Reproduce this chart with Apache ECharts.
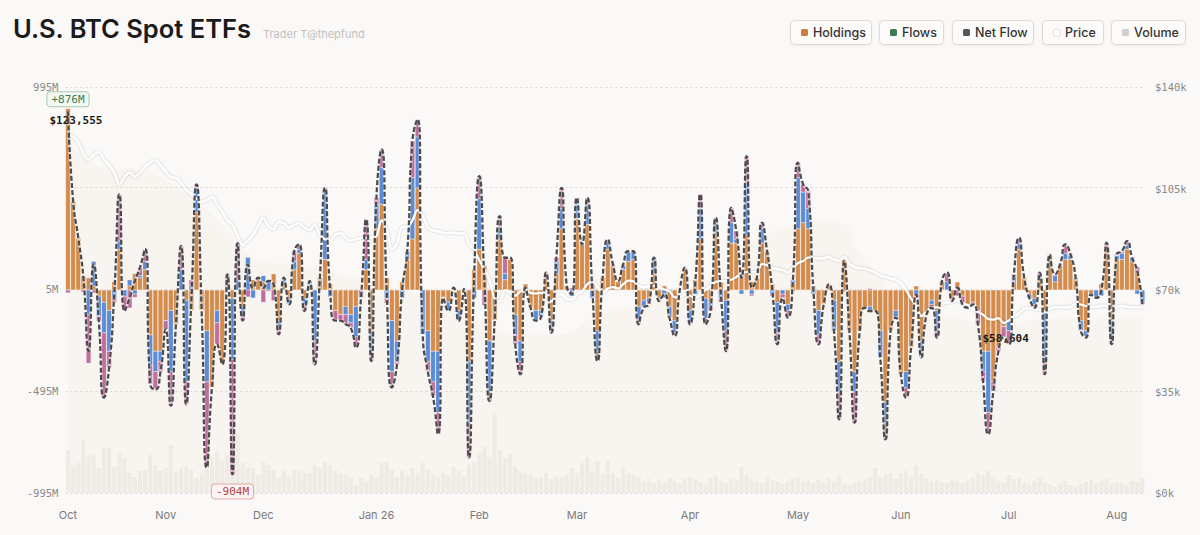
<!DOCTYPE html>
<html>
<head>
<meta charset="utf-8">
<script src="https://cdn.jsdelivr.net/npm/echarts@6/dist/echarts.min.js"></script>
<style>
html,body{margin:0;padding:0;background:#FAF9F7;}
#chart{width:1200px;height:535px;}
</style>
</head>
<body>
<div id="chart"></div>
<script>
// ---- categories (trading days per month) ----
const months = ['Oct','Nov','Dec','Jan 26','Feb','Mar','Apr','May','Jun','Jul','Aug'];
const tradingDays = [19,19,22,20,19,22,21,20,21,21,6];

// ---- daily net flow, $M ----
const netFlow = [
  876, 436, 256, 60, -299, 126, -152, -527, -380, -20,
  469, -103, -38, 44, 110, 200, -462, -487, -400, -193,
  -568, -170, 216, -560, -50, 518, -100, -870, -480, -266,
  -364, 77, -904, 230, -150, 126, 10, 60, 10, 44,
  28, -217, 60, -70, 190, 224, -103, 44, -364, 60,
  501, -5, -150, -150, -168, -185, -282, -38, 346, -348,
  452, 689, -5, -478, -364, 0, 190, 730, 836, -217,
  -400, -520, -707, -38, -103, 11, -152, 5, -821, 60,
  558, 44, -544, -150, 362, 158, 158, -266, -413, 11,
  -87, -150, -135, 85, -209, 158, 501, 20, -20, 452,
  224, 452, 0, -348, 60, 248, 126, 44, 126, 190,
  190, -168, -87, -70, 158, -54, -21, -135, -225, 0,
  110, -168, 28, 469, -168, -100, 354, -21, -300, 403,
  289, 60, 656, 11, 60, 330, 190, 0, -266, -40,
  -135, 44, 624, 518, 485, 0, -266, -70, 28, -200,
  -634, 142, -200, -650, -200, -87, -103, -103, -330, -732,
  -200, -135, -413, -527, -282, -21, -330, -120, -87, -233,
  44, 85, -54, 11, -70, -87, -70, -168, -446, -707,
  -495, -299, -233, -266, 77, 256, 60, -38, -87, 85,
  -413, 175, 77, 126, 224, 175, 60, -200, -233, -21,
  -38, 0, 232, -266, 175, 190, 240, 158, 93, -70
];

// ---- IBIT flow (orange), $M ----
const ibitFlow = [
  890, 436, 256, 70, 60, 20, -30, -60, -100, 40,
  200, 0, 20, 80, 60, 100, -220, -300, -300, -150,
  -100, -170, 0, -50, -100, 380, -100, -200, -480, -100,
  -364, 0, -40, 0, -80, 0, 50, 60, 40, 0,
  80, -150, 20, -40, 100, 180, -40, 20, 0, 60,
  150, 30, -100, -120, -80, -120, -80, 0, 100, -200,
  300, 420, 60, -150, -250, 40, 150, 250, 500, 0,
  -200, -300, -300, -38, -60, 11, -100, 0, -350, 100,
  200, 120, -250, -150, 250, 50, 150, -120, -250, 30,
  -87, -100, -100, 50, -150, 80, 300, 20, 0, 350,
  224, 320, 20, -200, 60, 200, 120, 44, 100, 140,
  150, -80, -50, -40, 80, -40, 20, -80, -150, 0,
  100, -100, 50, 250, -40, -60, 280, 40, -50, 230,
  230, 60, 270, 40, 60, 230, 190, 30, -60, 0,
  -70, 30, 300, 330, 300, 10, -100, -70, 30, -50,
  -350, 150, -200, -400, -200, -87, -80, -103, -200, -550,
  -200, -100, -413, -400, -282, 20, -250, -120, -50, -100,
  44, 0, -40, 40, -30, -70, -60, -100, -300, -300,
  -450, -280, -180, -150, 40, 200, 60, -20, -40, 50,
  -100, 175, 40, 120, 150, 150, 60, -150, -200, -21,
  0, 30, 200, -150, 150, 150, 200, 140, 80, 0
];

// ---- FBTC flow (blue), $M ----
const fbtcFlow = [
  0, 0, 0, 0, -120, 120, -100, -150, -200, -40,
  40, -30, 30, -20, 10, 40, -150, -100, -50, 0,
  -300, 0, 100, -400, 20, 120, 0, -250, 0, -60,
  0, 0, -300, 50, -40, 160, -40, 0, 30, 50,
  0, -30, 40, -30, 40, 20, -30, 20, -250, 0,
  340, -30, 0, 0, -40, -40, -150, 0, 50, -100,
  120, 180, -40, -250, -100, -40, 40, 300, 250, -217,
  -150, -150, -300, 0, -40, 0, -50, 5, -300, -40,
  250, 0, -250, 0, 60, 30, 0, -100, -100, 0,
  0, -50, -30, 0, -30, 60, 100, 0, -30, 80,
  0, 100, -40, -100, 0, 40, 0, 0, 20, 50,
  40, -60, -30, -20, 78, 0, -40, -50, -60, 0,
  0, -60, -20, 150, -100, -20, 50, -40, -150, 100,
  20, -20, 250, -20, 0, 70, 0, -20, -150, -20,
  -30, 20, 250, 150, 100, -20, -120, 0, 0, -150,
  -150, 0, 0, -100, 0, 0, -30, 0, -130, -100,
  0, -35, 0, -80, 0, -20, -80, 0, -20, -100,
  0, 40, 0, 0, 0, 0, 0, 0, -100, -300,
  0, 0, 0, -50, 20, 30, 0, -20, -30, 0,
  -250, 0, 30, 0, 30, 20, 0, -50, -30, 0,
  -38, -30, 0, -100, 20, 30, 20, 20, -20, -60
];

// ---- BTC price, $k ----
const price = [
  123.555, 122.8, 121, 117, 115, 116.5, 117.6, 115, 113, 110.5,
  106.5, 109, 110.5, 109, 110.5, 112.4, 114, 114.8, 113, 110.7,
  109, 108.6, 107, 104.5, 103, 101.5, 100.3, 101, 102, 99.5,
  97, 94, 92.5, 88.5, 85.5, 87, 89, 92, 95, 92,
  91, 93.5, 93, 91.5, 92.5, 93, 91.5, 90.7, 92.5, 89,
  87.5, 87, 89, 89.6, 88, 87, 87.5, 88, 88, 88,
  88.5, 94, 91, 84, 86, 91.7, 91.7, 94, 97.6, 95.5,
  91.5, 90.5, 90.2, 89.8, 89.6, 89.8, 89.5, 89.6, 86, 83.8,
  80.3, 77, 73.4, 67, 66, 70, 69, 68, 69.5, 70,
  69, 68.8, 69, 68, 66, 68, 68.5, 67, 66.6, 68.5,
  69.5, 72, 73, 71, 69, 70.5, 71, 70.5, 72, 73.2,
  73, 71.5, 71, 71.2, 71.4, 71, 70.2, 69.5, 67.5, 67.5,
  68.5, 68, 67.2, 68.5, 70, 71.5, 72.8, 73, 73, 73.5,
  74.5, 75.5, 76.2, 76.2, 76.2, 79, 78.5, 77.6, 77.2, 76.9,
  76, 77.5, 79.3, 80, 81.2, 81, 80.8, 81, 81.4, 80.5,
  80, 81.4, 79, 77.9, 77.5, 77.3, 76.8, 76, 75, 74.5,
  74, 73.5, 72.4, 70, 67, 64.5, 61, 62.5, 64, 64,
  65.3, 65.7, 65.9, 66.5, 65.5, 64.8, 63.5, 62.5, 61.5, 60,
  59.8, 60.3, 58.604, 59.5, 60.7, 62, 63.5, 63.8, 63.5, 63.2,
  62.4, 63.5, 64.1, 64.1, 64, 64.1, 65.2, 65, 64.5, 64.2,
  64.2, 64.5, 64.5, 63.1, 64, 64.5, 64.2, 64, 64.1, 64.1
];

// ---- trading volume, $B ----
const volume = [
  4.3, 2.8, 3.0, 5.3, 3.6, 3.8, 2.5, 4.5, 4.5, 2.6,
  4.0, 3.5, 2.0, 1.6, 2.2, 2.3, 3.8, 2.8, 2.3, 2.5,
  4.8, 2.2, 2.5, 2.6, 2.3, 1.5, 2.0, 3.3, 3.6, 4.1,
  3.3, 3.8, 5.3, 6.0, 3.0, 2.6, 2.5, 1.8, 3.1, 2.8,
  2.3, 1.5, 2.2, 1.6, 2.3, 2.2, 2.0, 2.0, 2.8, 2.5,
  3.1, 2.8, 2.3, 2.0, 1.8, 1.5, 0.8, 1.5, 1.2, 1.8,
  1.5, 3.0, 3.1, 2.3, 1.6, 2.2, 1.8, 2.5, 2.0, 3.0,
  2.4, 1.9, 1.6, 2.0, 1.8, 2.6, 2.2, 1.7, 2.8, 3.0,
  4.0, 4.6, 3.6, 8.0, 4.3, 3.5, 3.9, 2.6, 2.2, 2.0,
  1.8, 1.5, 1.6, 2.0, 1.4, 1.7, 1.6, 1.8, 2.5, 2.0,
  3.0, 3.6, 2.2, 3.2, 2.0, 3.3, 2.0, 1.5, 2.6, 2.0,
  1.8, 1.6, 1.2, 1.4, 1.0, 1.3, 1.1, 1.5, 1.2, 1.0,
  1.4, 1.6, 1.3, 1.1, 0.9, 1.5, 1.8, 1.2, 1.0, 1.4,
  1.2, 2.6, 1.8, 1.4, 1.2, 1.0, 1.6, 1.3, 1.1, 0.9,
  1.2, 1.5, 1.6, 1.2, 1.4, 1.0, 1.3, 1.1, 1.5, 1.2,
  1.8, 1.0, 0.8, 1.0, 1.2, 1.4, 1.6, 2.5, 1.6, 1.8,
  2.0, 1.5, 2.0, 2.2, 1.8, 2.8, 2.0, 1.5, 1.2, 1.3,
  1.1, 1.0, 1.4, 1.2, 1.0, 1.2, 1.5, 2.0, 1.8, 2.2,
  1.6, 1.2, 1.0, 1.8, 1.4, 1.5, 1.0, 0.8, 1.2, 1.5,
  1.1, 0.9, 0.7, 1.0, 1.2, 0.8, 0.6, 0.9, 1.1, 1.3,
  1.0, 1.2, 1.4, 0.9, 1.1, 1.0, 0.8, 1.2, 1.1, 1.4
];

// ---- total holdings (AUM, $B) sampled at [day index, value] ----
const holdings = [
  [0,174],[6,161],[14,159],[22,149],[30,132],[33.5,122],[37.5,114],[45,112],
  [57,105],[64.5,100],[72.5,95],[80,85],[88,78],[95.5,78],[103.5,88],[113,94],
  [123,100],[130.5,118],[138.5,130],[146,134],[151,132],[154,118],[158,106],
  [162,95],[169.5,88],[181,84],[193,86],[209,86]
];

// ---- build categories ----
const cats = [];
const monthLabelAt = {};
months.forEach((m, mi) => {
  for (let k = 0; k < tradingDays[mi]; k++) {
    if (k === 0) monthLabelAt[cats.length] = m;
    cats.push(m + ' #' + (k + 1));
  }
});
const otherFlow = netFlow.map((v, i) => Math.round(v - ibitFlow[i] - fbtcFlow[i]));

const maxIdx = netFlow.indexOf(Math.max(...netFlow));
const minIdx = netFlow.indexOf(Math.min(...netFlow));
const pMaxIdx = price.indexOf(Math.max(...price));
const pMinIdx = price.indexOf(Math.min(...price));

const mono = '"DejaVu Sans Mono", "Liberation Mono", monospace';
const sans = 'Inter, "Noto Sans", Roboto, sans-serif';

const chart = echarts.init(document.getElementById('chart'), null, {renderer: 'svg'});

const legendItems = [
  {name: 'Holdings', x: 790, w: 81, color: '#C97D43'},
  {name: 'Flows', x: 879, w: 64, color: '#3E7B52'},
  {name: 'Net Flow', x: 952, w: 81, color: '#555555'},
  {name: 'Price', x: 1042, w: 61, color: '#FFFFFF', stroke: '#D8D5D0'},
  {name: 'Volume', x: 1111, w: 74, color: '#D3D0CB'}
];
const legendGraphics = [];
legendItems.forEach(it => {
  legendGraphics.push({
    type: 'rect', left: it.x, top: 20, silent: true,
    shape: {width: it.w, height: 24, r: 4},
    style: {fill: '#FCFBFA', stroke: '#DEDAD4', lineWidth: 1, shadowColor: 'rgba(0,0,0,0.06)', shadowBlur: 2, shadowOffsetY: 1}
  });
  legendGraphics.push({
    type: 'rect', left: it.x + 11, top: 29, silent: true,
    shape: {width: 7, height: 7, r: 1.5},
    style: {fill: it.color, stroke: it.stroke || null, lineWidth: it.stroke ? 0.8 : 0}
  });
  legendGraphics.push({
    type: 'text', left: it.x + 23, top: 25.5, silent: true,
    style: {text: it.name, fill: '#333', font: '500 12.5px ' + sans}
  });
});

const option = {
  backgroundColor: '#FAF9F7',
  animation: false,
  graphic: [
    {type: 'text', left: 13, top: 15, silent: true,
     style: {text: 'U.S. BTC Spot ETFs', fill: '#1b1b1b', font: '600 25.5px ' + sans}},
    {type: 'text', left: 263, top: 28, silent: true,
     style: {text: 'Trader T@thepfund', fill: '#C2C0BD', font: '400 11px ' + sans}},
    ...legendGraphics
  ],
  grid: {left: 65.4, right: 55, top: 87, bottom: 42},
  xAxis: [
    {type: 'category', data: cats, boundaryGap: true,
     axisLine: {show: false}, axisTick: {show: false}, splitLine: {show: false},
     axisLabel: {
       interval: (idx) => monthLabelAt[idx] !== undefined,
       formatter: (v, idx) => monthLabelAt[idx] || '',
       color: '#7a7a7a', fontSize: 11, fontFamily: sans, margin: 16
     }},
    {type: 'category', data: cats, show: false, boundaryGap: true},
    {type: 'value', min: -0.5, max: cats.length - 0.5, show: false}
  ],
  yAxis: [
    {type: 'value', min: -995, max: 995, interval: 500, position: 'left',
     axisLine: {show: false}, axisTick: {show: false},
     splitLine: {show: true, lineStyle: {color: '#DCD9D4', type: [2, 3], width: 1}},
     axisLabel: {formatter: v => (v === 505 ? '' : v + 'M'), color: '#8a8a8a', fontSize: 10.5, fontFamily: mono, margin: 7}},
    {type: 'value', min: 0, max: 140, interval: 35, position: 'right',
     axisLine: {show: false}, axisTick: {show: false}, splitLine: {show: false},
     axisLabel: {formatter: v => '$' + v + 'k', color: '#8a8a8a', fontSize: 10.5, fontFamily: mono, margin: 10}},
    {type: 'value', min: 0, max: 40.6, show: false},
    {type: 'value', min: 0, max: 200, show: false}
  ],
  series: [
    {name: 'Holdings', type: 'line', xAxisIndex: 2, yAxisIndex: 3, data: holdings,
     smooth: 0.5, showSymbol: false, silent: true, z: 0,
     lineStyle: {width: 0}, areaStyle: {color: 'rgba(228,192,158,0.12)'}},
    {name: 'Volume', type: 'bar', xAxisIndex: 1, yAxisIndex: 2, data: volume,
     barCategoryGap: '22%', silent: true, z: 1,
     itemStyle: {color: 'rgba(212,207,201,0.27)'}},
    {name: 'IBIT', type: 'bar', stack: 'flow', data: ibitFlow, barCategoryGap: '8%', z: 2,
     itemStyle: {color: '#D48B4C', borderColor: 'rgba(255,255,255,0.8)', borderWidth: 0.3}},
    {name: 'FBTC', type: 'bar', stack: 'flow', data: fbtcFlow, barCategoryGap: '8%', z: 2,
     itemStyle: {color: '#5C8BD8', borderColor: 'rgba(255,255,255,0.8)', borderWidth: 0.3}},
    {name: 'Others', type: 'bar', stack: 'flow', data: otherFlow, barCategoryGap: '8%', z: 2,
     itemStyle: {color: '#C06E9E', borderColor: 'rgba(255,255,255,0.8)', borderWidth: 0.3}},
    {name: 'Price', type: 'line', yAxisIndex: 1, data: price, smooth: 0.3, showSymbol: false, z: 3,
     lineStyle: {color: '#FFFFFF', width: 2.2, shadowColor: 'rgba(0,0,0,0.25)', shadowBlur: 2},
     itemStyle: {color: '#FFFFFF'},
     markPoint: {
       symbol: 'circle', symbolSize: 0, silent: true,
       data: [
         {coord: [cats[pMaxIdx], price[pMaxIdx]],
          label: {show: true, position: 'inside', offset: [8, -14], formatter: '$123,555',
                  color: '#1a1a1a', fontWeight: 'bold', fontSize: 11, fontFamily: mono}},
         {coord: [cats[pMinIdx], price[pMinIdx]],
          label: {show: true, position: 'inside', offset: [2, 15], formatter: '$58,604',
                  color: '#1a1a1a', fontWeight: 'bold', fontSize: 11, fontFamily: mono}}
       ]
     }},
    {name: 'NetFlowHalo', type: 'line', data: netFlow, smooth: 0.6, showSymbol: false, silent: true, z: 4,
     lineStyle: {color: 'rgba(255,255,255,0.55)', width: 3}},
    {name: 'Net Flow', type: 'line', data: netFlow, smooth: 0.6, showSymbol: false, z: 5,
     lineStyle: {color: '#4C4C4C', width: 2.3, type: [5, 2.2]},
     itemStyle: {color: '#4C4C4C'},
     markPoint: {
       symbol: 'circle', symbolSize: 0, silent: true,
       data: [
         {coord: [cats[maxIdx], netFlow[maxIdx]],
          label: {show: true, position: 'inside', offset: [0, -12], formatter: '+' + netFlow[maxIdx] + 'M',
                  color: '#3E7D4D', backgroundColor: '#F3F8F3', borderColor: '#A9CBB0', borderWidth: 1,
                  borderRadius: 3, padding: [2, 4, 1, 4], fontSize: 11, fontFamily: mono}},
         {coord: [cats[minIdx], netFlow[minIdx]],
          label: {show: true, position: 'inside', offset: [0, 17], formatter: netFlow[minIdx] + 'M',
                  color: '#B3433F', backgroundColor: '#FCF3F2', borderColor: '#E2A8A6', borderWidth: 1,
                  borderRadius: 3, padding: [2, 4, 1, 4], fontSize: 11, fontFamily: mono}}
       ]
     }}
  ]
};
chart.setOption(option);
</script>
</body>
</html>
